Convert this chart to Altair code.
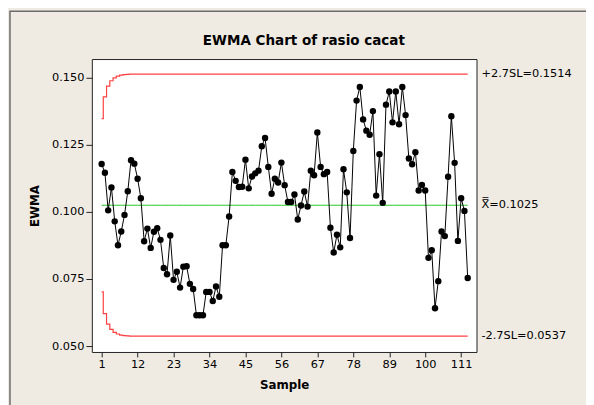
import altair as alt
import pandas as pd

# ---- data ----
samples = list(range(1, 114))
ewma = [0.1179, 0.1146, 0.1006, 0.1091, 0.0965, 0.0876, 0.0927, 0.0989, 0.1077, 0.1193,
        0.1180, 0.1124, 0.1051, 0.0891, 0.0938, 0.0866, 0.0926, 0.0939, 0.0896, 0.0791,
        0.0768, 0.0912, 0.0747, 0.0777, 0.0718, 0.0796, 0.0798, 0.0732, 0.0713, 0.0615,
        0.0615, 0.0615, 0.0702, 0.0702, 0.0668, 0.0722, 0.0684, 0.0876, 0.0876, 0.0983,
        0.1149, 0.1116, 0.1093, 0.1094, 0.1195, 0.1088, 0.1132, 0.1144, 0.1154, 0.1245,
        0.1276, 0.1168, 0.1068, 0.1124, 0.1110, 0.1184, 0.1100, 0.1037, 0.1037, 0.1065,
        0.0972, 0.1024, 0.1076, 0.1020, 0.1154, 0.1137, 0.1296, 0.1168, 0.1141, 0.1149,
        0.0941, 0.0849, 0.0915, 0.0868, 0.1159, 0.1073, 0.0903, 0.1227, 0.1415, 0.1466,
        0.1345, 0.1303, 0.1288, 0.1376, 0.1061, 0.1215, 0.1034, 0.1400, 0.1449, 0.1334,
        0.1449, 0.1327, 0.1466, 0.1361, 0.1199, 0.1178, 0.1223, 0.1080, 0.1101, 0.1080,
        0.0829, 0.0857, 0.0641, 0.0742, 0.0927, 0.0910, 0.1131, 0.1357, 0.1183, 0.0892,
        0.1051, 0.1004, 0.0754]

ucl_start = [0.1348, 0.1429, 0.1469, 0.1489, 0.1500, 0.1506, 0.1510, 0.1512, 0.1513]
ucl_steady = 0.1514
lcl_start = [0.0702, 0.0621, 0.0582, 0.0562, 0.0551, 0.0545, 0.0541, 0.0539, 0.0538]
lcl_steady = 0.0537
center = 0.1025

x_ticks = [1, 12, 23, 34, 45, 56, 67, 78, 89, 100, 111]
y_ticks = [0.050, 0.075, 0.100, 0.125, 0.150]

label_texts = ["+2.7SL=0.1514", "X\u033F=0.1025", "-2.7SL=0.0537"]
label_vals = [0.1514, 0.1025, 0.0537]

title_text = "EWMA Chart of rasio cacat"

n = len(samples)
ucl = ucl_start + [ucl_steady] * (n - len(ucl_start))
lcl = lcl_start + [lcl_steady] * (n - len(lcl_start))
cl = [center] * n

df = pd.DataFrame({"sample": samples, "ewma": ewma, "ucl": ucl, "lcl": lcl, "cl": cl})
lab_df = pd.DataFrame({"label": label_texts, "val": label_vals})

W, H = 390, 297
FONT = "DejaVu Sans"

xs = alt.Scale(domain=[-2, 115.7], nice=False, zero=False)
ys = alt.Scale(domain=[0.0478, 0.157], nice=False, zero=False)

x_axis = alt.Axis(values=x_ticks, title="Sample", titleY=33, titleBaseline="middle",
                  labelPadding=2, tickSize=5)
y_axis = alt.Axis(values=y_ticks, format=".3f", title="EWMA", titleX=-58, titleY=H / 2,
                  titleAngle=-90, titleAlign="center", titleBaseline="middle",
                  labelPadding=2, tickSize=6)


def X():
    return alt.X("sample:Q", scale=xs, axis=x_axis)


def Y(field):
    return alt.Y(f"{field}:Q", scale=ys, axis=y_axis)


base = alt.Chart(df)
one = pd.DataFrame({"t": [title_text]})

# outer window frame of the graph (decoration)
border = alt.Chart(one).mark_rect(
    fillOpacity=0, stroke="#6b6b6b", strokeWidth=1.5
).encode(x=alt.value(-83), x2=alt.value(700), y=alt.value(-48.5), y2=alt.value(700))

title = alt.Chart(one).mark_text(
    align="center", baseline="alphabetic", font=FONT, fontSize=13.7, fontWeight="bold",
    color="black"
).encode(x=alt.value(215), y=alt.value(-14), text="t:N")

ucl_line = base.mark_line(interpolate="step", color="#ff4040", strokeWidth=1.2).encode(
    x=X(), y=Y("ucl"))
lcl_line = base.mark_line(interpolate="step", color="#ff4040", strokeWidth=1.2).encode(
    x=X(), y=Y("lcl"))
cl_line = base.mark_line(color="#22c822", strokeWidth=1).encode(x=X(), y=Y("cl"))
data_line = base.mark_line(color="black", strokeWidth=1).encode(x=X(), y=Y("ewma"))
pts = base.mark_circle(color="black", size=42, opacity=1).encode(x=X(), y=Y("ewma"))

labels = alt.Chart(lab_df).mark_text(
    align="left", baseline="middle", font=FONT, fontSize=11.5, color="black"
).encode(x=alt.value(W + 5), y=alt.Y("val:Q", scale=ys, axis=y_axis), text="label:N")

chart = alt.layer(border, title, ucl_line, lcl_line, cl_line, data_line, pts, labels).properties(
    width=W, height=H,
    autosize=alt.AutoSizeParams(type="none"),
    padding={"left": 85, "top": 49, "right": 111, "bottom": 51},
    background="#efebe3",
).configure_view(
    fill="white", stroke="#222222", strokeWidth=1
).configure_axis(
    domain=False, grid=False, tickColor="#222222", labelFont=FONT, labelFontSize=11.5,
    labelColor="black", titleFont=FONT, titleFontSize=12, titleFontWeight="bold",
    titleColor="black"
)

chart.save("out.html", embed_options={"renderer": "svg", "actions": False})
